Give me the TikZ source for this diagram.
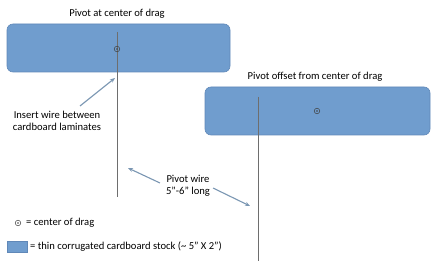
\documentclass[tikz,border=0pt]{standalone}
\usepackage{fontspec}
\setmainfont{Carlito}
\usetikzlibrary{arrows.meta}
\definecolor{cardfill}{RGB}{112,157,206}
\definecolor{carddraw}{RGB}{96,136,184}
\definecolor{wiregray}{RGB}{110,110,110}
\definecolor{arrowblue}{RGB}{122,150,178}
\tikzset{
  card/.style={draw=carddraw, fill=cardfill, rounded corners=6pt, line width=0.6pt, inner sep=0pt},
  wire/.style={draw=wiregray, line width=0.9pt},
  pointer/.style={draw=arrowblue, line width=1.1pt, -{Stealth[length=5pt,width=4pt]}},
  lbl/.style={font=\fontsize{10.6}{12}\selectfont, inner sep=0pt, align=center},
  cod/.style={circle, draw=black!75, line width=0.5pt, minimum size=5.5pt, inner sep=0pt,
    path picture={\fill[black!75] (path picture bounding box.center) circle (0.8pt);}}
}
\begin{document}
\begin{tikzpicture}[x=1pt,y=-1pt]
\useasboundingbox (0,0) rectangle (432,267);
% boxes
\node[card, minimum width=223pt, minimum height=48pt] (box1) at (118.5,48) {};
\node[card, minimum width=225pt, minimum height=48pt] (box2) at (317.5,111) {};
% wires
\coordinate (w1t) at (117,32);
\coordinate (w1b) at (117,197);
\coordinate (w2t) at (258,97);
\coordinate (w2b) at (258,261);
\draw[wire] (w1t) -- (w1b);
\draw[wire] (w2t) -- (w2b);
% center of drag markers
\node[cod] (c1) at (117,49) {};
\node[cod] (c2) at (317,111) {};
% titles
\node[lbl] (t1) at (117,14) {Pivot at center of drag};
\node[lbl] (t2) at (315,77) {Pivot offset from center of drag};
% insert label
\node[lbl] (ins) at (57,121) {Insert wire between\\cardboard laminates};
\coordinate (insA) at (80,106);
\coordinate (insB) at (115,78);
\draw[pointer] (insA) -- (insB);
% pivot wire label
\node[lbl] (pw) at (188,186) {Pivot wire\\5”-6” long};
\coordinate (pwA1) at (160,183);
\coordinate (pwB1) at (128,168);
\coordinate (pwA2) at (213,188);
\coordinate (pwB2) at (250,206);
\draw[pointer] (pwA1) -- (pwB1);
\draw[pointer] (pwA2) -- (pwB2);
% legend
\node[cod] (lc) at (18,223) {};
\node[lbl, anchor=west] (lt1) at (26,223) {= center of drag};
\node[card, rounded corners=0pt, minimum width=20pt, minimum height=11pt] (lr) at (17,246.5) {};
\node[lbl, anchor=west] (lt2) at (30,247) {= thin corrugated cardboard stock (\textasciitilde{} 5” X 2”)};
\end{tikzpicture}
\end{document}
